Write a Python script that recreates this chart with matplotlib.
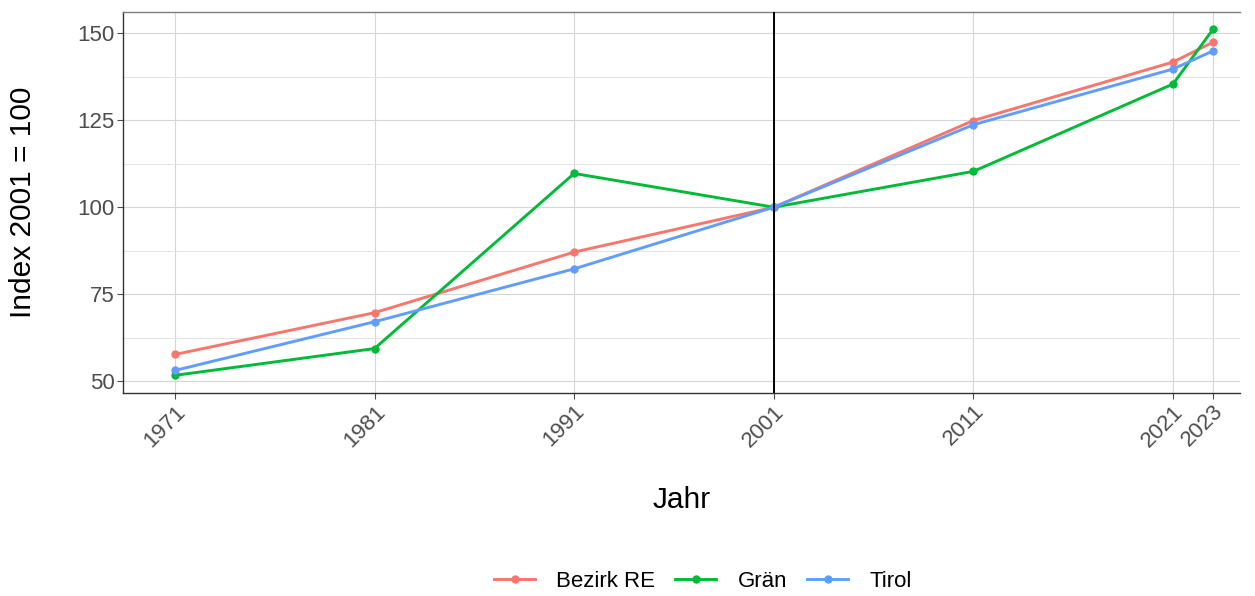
import numpy as np
import matplotlib.pyplot as plt
from matplotlib.ticker import MultipleLocator

years = [1971, 1981, 1991, 2001, 2011, 2021, 2023]
bezirk_re = [57.7, 69.7, 87.1, 100, 124.9, 141.7, 147.4]
graen = [51.7, 59.4, 109.7, 100, 110.3, 135.4, 151.1]
tirol = [53.1, 67.1, 82.3, 100, 123.7, 139.7, 144.9]

series = [("Bezirk RE", bezirk_re, "#F8766D"),
          ("Grän", graen, "#00BA38"),
          ("Tirol", tirol, "#619CFF")]

plt.rcParams['font.family'] = ['Liberation Sans', 'DejaVu Sans']

fig = plt.figure(figsize=(12.55, 5.96), dpi=100)
ax = fig.add_axes([0.098, 0.341, 0.890, 0.639])

for name, vals, col in series:
    ax.plot(years, vals, color=col, lw=2.1, marker='o', ms=5, label=name, zorder=3)

ax.axvline(2001, color='black', lw=1.4, zorder=4)

ax.set_xlim(1968.4, 2024.35)
ax.set_ylim(46.7, 156.1)
ax.set_xticks(years)
ax.set_xticklabels([str(y) for y in years], rotation=45, ha='right', va='top',
                   rotation_mode='anchor')
ax.yaxis.set_major_locator(MultipleLocator(25))
ax.yaxis.set_minor_locator(MultipleLocator(12.5))
ax.grid(True, which='major', color='#d6d6d6', lw=0.8)
ax.grid(True, which='minor', axis='y', color='#e3e3e3', lw=0.7)
ax.set_axisbelow(True)

for s in ax.spines.values():
    s.set_color('#7f7f7f')
    s.set_linewidth(1.0)
ax.spines['left'].set_color('#333333')
ax.spines['bottom'].set_color('#333333')
ax.spines['right'].set_visible(False)

ax.tick_params(axis='both', which='major', labelsize=16, colors='#4d4d4d',
               length=4, width=0.8, pad=2)
ax.tick_params(axis='y', which='minor', length=0)
for lbl in ax.get_xticklabels() + ax.get_yticklabels():
    lbl.set_color('#4d4d4d')

ax.set_xlabel('Jahr', fontsize=21.5)
ax.set_ylabel('Index 2001 = 100', fontsize=21.5)
ax.xaxis.set_label_coords(0.5, -0.245)
ax.yaxis.set_label_coords(-0.077, 0.5)

fig.legend(loc='center', bbox_to_anchor=(0.56, 0.024), ncol=3, frameon=False,
           fontsize=16, handlelength=1.85, columnspacing=0.9, handletextpad=0.95,
           borderpad=0.2)

fig.savefig('out.png', dpi=100)
